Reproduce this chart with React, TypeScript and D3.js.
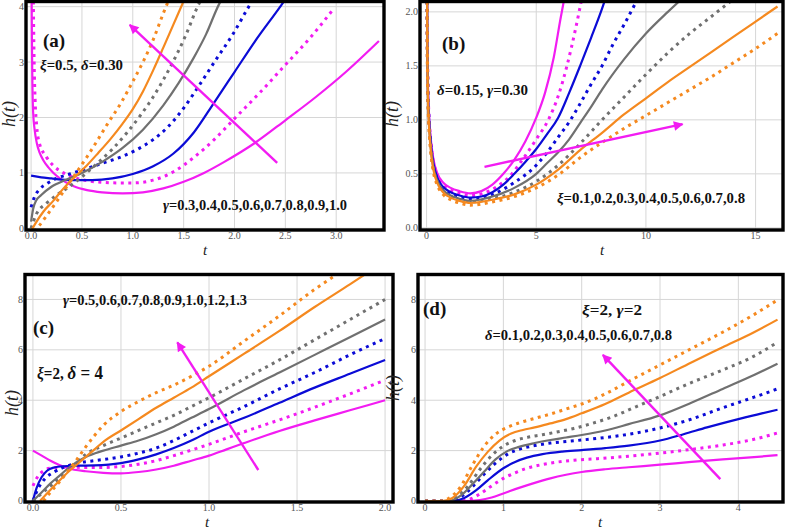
import React from 'react';
import * as d3 from 'd3';

type Pt = [number, number];

// ---------- Panel (a): xi = 0.5, delta = 0.30, gamma varies ----------
const aGamma = [0.3, 0.4, 0.5, 0.6, 0.7, 0.8, 0.9, 1.0];
const a_g03: Pt[] = [[0.004,4.6],[0.008,3.4],[0.013,2.6],[0.02,2.1],[0.035,1.78],[0.056,1.54],[0.085,1.36],[0.12,1.23],[0.17,1.1],[0.22,1.0],[0.3,0.88],[0.42,0.76],[0.55,0.69],[0.7,0.65],[0.9,0.63],[1.1,0.65],[1.3,0.72],[1.5,0.84],[1.7,1.0],[1.9,1.2],[2.2,1.54],[2.5,1.95],[2.8,2.37],[3.1,2.83],[3.42,3.38]];
const a_g04: Pt[] = [[0.02,4.5],[0.03,3.0],[0.04,2.3],[0.055,1.85],[0.08,1.55],[0.15,1.29],[0.22,1.13],[0.32,1.0],[0.42,0.92],[0.55,0.86],[0.7,0.83],[0.85,0.82],[1.0,0.82],[1.2,0.87],[1.4,1.02],[1.6,1.28],[1.8,1.6],[2.0,1.98],[2.25,2.45],[2.5,2.95],[2.75,3.45],[2.97,3.95]];
const a_g05: Pt[] = [[0,0.95],[0.1,0.92],[0.2,0.9],[0.3,0.88],[0.45,0.87],[0.6,0.87],[0.8,0.9],[1.0,0.98],[1.2,1.12],[1.4,1.35],[1.6,1.73],[1.8,2.27],[2.0,2.82],[2.2,3.37],[2.45,4.0],[2.5,4.13]];
const a_g06: Pt[] = [[0,0.38],[0.03,0.55],[0.08,0.7],[0.15,0.8],[0.25,0.9],[0.38,0.98],[0.55,1.08],[0.71,1.18],[0.9,1.3],[1.04,1.42],[1.2,1.6],[1.34,1.82],[1.5,2.17],[1.66,2.6],[1.82,3.05],[1.99,3.52],[2.14,4.0],[2.18,4.12]];
const a_g07: Pt[] = [[0,0.12],[0.02,0.35],[0.05,0.5],[0.1,0.6],[0.2,0.75],[0.35,0.88],[0.5,1.0],[0.7,1.2],[0.9,1.45],[1.1,1.78],[1.3,2.22],[1.45,2.62],[1.6,3.08],[1.72,3.5],[1.85,4.05],[1.88,4.15]];
const a_g08: Pt[] = [[0,0.0],[0.05,0.25],[0.15,0.45],[0.25,0.6],[0.35,0.72],[0.5,0.93],[0.65,1.17],[0.8,1.43],[0.94,1.72],[1.08,2.05],[1.2,2.37],[1.3,2.68],[1.4,3.02],[1.52,3.48],[1.65,4.05],[1.68,4.15]];
const a_g09: Pt[] = [[0.0,-0.05],[0.04,0.08],[0.12,0.3],[0.22,0.5],[0.3,0.68],[0.38,0.84],[0.46,0.98],[0.55,1.14],[0.66,1.36],[0.78,1.61],[0.9,1.89],[1.0,2.15],[1.1,2.47],[1.2,2.85],[1.3,3.26],[1.4,3.68],[1.5,4.1]];
const a_g10: Pt[] = [[0.03,-0.05],[0.08,0.05],[0.15,0.22],[0.25,0.48],[0.35,0.75],[0.45,1.02],[0.55,1.29],[0.65,1.58],[0.75,1.88],[0.88,2.25],[1.0,2.65],[1.1,3.0],[1.2,3.4],[1.3,3.88],[1.36,4.15]];
const aArrow: Pt[] = [[2.42,1.18],[0.97,3.67]];
const aXTicks = [0, 0.5, 1.0, 1.5, 2.0, 2.5, 3.0];
const aYTicks = [0, 1, 2, 3, 4];

// ---------- Panel (b): delta = 0.15, gamma = 0.30, xi varies ----------
const bXi = [0.1, 0.2, 0.3, 0.4, 0.5, 0.6, 0.7, 0.8];
const b_x01: Pt[] = [[0.01,3.0],[0.03,1.9],[0.06,1.35],[0.1,1.1],[0.18,0.85],[0.3,0.65],[0.5,0.5],[0.75,0.42],[1.1,0.37],[1.5,0.34],[2.0,0.32],[2.5,0.34],[3.0,0.4],[3.5,0.5],[4.0,0.63],[4.5,0.8],[5.0,1.02],[5.4,1.25],[5.8,1.58],[6.1,1.93],[6.35,2.2]];
const b_x02: Pt[] = [[0.01,3.0],[0.03,1.88],[0.06,1.33],[0.1,1.08],[0.18,0.83],[0.3,0.63],[0.5,0.48],[0.75,0.4],[1.1,0.35],[1.5,0.32],[2.0,0.3],[2.6,0.32],[3.2,0.38],[3.8,0.48],[4.4,0.64],[5.0,0.82],[5.55,1.0],[6.0,1.22],[6.4,1.5],[6.8,1.85],[7.15,2.2]];
const b_x03: Pt[] = [[0.01,3.0],[0.03,1.85],[0.06,1.3],[0.1,1.06],[0.18,0.81],[0.3,0.61],[0.5,0.46],[0.75,0.38],[1.1,0.33],[1.5,0.3],[2.0,0.28],[2.5,0.29],[3.0,0.33],[3.5,0.4],[4.0,0.5],[4.5,0.61],[5.0,0.73],[5.5,0.87],[6.0,1.02],[6.5,1.25],[7.0,1.5],[7.5,1.76],[8.0,2.03],[8.2,2.15]];
const b_x04: Pt[] = [[0.01,3.0],[0.03,1.83],[0.06,1.28],[0.1,1.04],[0.18,0.79],[0.3,0.59],[0.5,0.45],[0.75,0.37],[1.1,0.32],[1.5,0.29],[2.0,0.27],[2.5,0.28],[3.0,0.31],[4.0,0.42],[5.0,0.58],[5.5,0.7],[6.0,0.84],[6.5,0.98],[7.0,1.15],[7.5,1.33],[8.0,1.5],[8.5,1.7],[9.0,1.88],[9.7,2.15]];
const b_x05: Pt[] = [[0.01,3.0],[0.03,1.8],[0.06,1.26],[0.1,1.02],[0.18,0.77],[0.3,0.57],[0.5,0.43],[0.75,0.35],[1.1,0.3],[1.5,0.27],[2.0,0.25],[3.0,0.29],[4.0,0.37],[5.0,0.5],[5.5,0.6],[6.0,0.7],[6.5,0.82],[7.0,0.97],[7.5,1.12],[8.0,1.28],[9.0,1.56],[10.0,1.8],[11.0,2.0],[11.8,2.15]];
const b_x06: Pt[] = [[0.01,3.0],[0.03,1.78],[0.06,1.24],[0.1,1.0],[0.18,0.75],[0.3,0.56],[0.5,0.42],[0.75,0.34],[1.1,0.29],[1.5,0.26],[2.0,0.24],[3.0,0.27],[4.0,0.33],[5.0,0.43],[6.0,0.58],[7.0,0.78],[8.0,1.0],[9.0,1.21],[10.0,1.42],[11.0,1.62],[12.0,1.8],[13.0,1.96],[14.0,2.12]];
const b_x07: Pt[] = [[0.01,3.0],[0.03,1.76],[0.06,1.22],[0.1,0.98],[0.18,0.74],[0.3,0.55],[0.5,0.41],[0.75,0.33],[1.1,0.28],[1.5,0.25],[2.0,0.23],[3.0,0.26],[4.0,0.31],[5.0,0.4],[6.0,0.54],[7.0,0.72],[8.0,0.88],[9.0,1.05],[10.0,1.2],[11.0,1.35],[12.0,1.49],[13.0,1.63],[14.0,1.77],[15.0,1.91],[16.0,2.05]];
const b_x08: Pt[] = [[0.01,3.0],[0.03,1.74],[0.06,1.2],[0.1,0.96],[0.18,0.72],[0.3,0.53],[0.5,0.39],[0.75,0.31],[1.1,0.26],[1.5,0.23],[2.0,0.21],[3.0,0.24],[4.0,0.29],[5.0,0.37],[6.0,0.49],[7.0,0.65],[8.0,0.79],[9.0,0.92],[10.0,1.04],[11.0,1.16],[12.0,1.28],[13.0,1.4],[14.0,1.53],[15.0,1.66],[16.0,1.8]];
const bArrow: Pt[] = [[2.64,0.565],[11.67,0.96]];
const bXTicks = [0, 5, 10, 15];
const bYTicks = [0, 0.5, 1.0, 1.5, 2.0];

// ---------- Panel (c): xi = 2, delta = 4, gamma varies ----------
const cGamma = [0.5, 0.6, 0.7, 0.8, 0.9, 1.0, 1.2, 1.3];
const c_g05: Pt[] = [[0,2.0],[0.05,1.8],[0.1,1.6],[0.15,1.43],[0.2,1.3],[0.3,1.18],[0.4,1.12],[0.5,1.1],[0.6,1.15],[0.7,1.25],[0.8,1.4],[0.9,1.6],[1.0,1.8],[1.1,2.05],[1.2,2.3],[1.4,2.78],[1.6,3.2],[1.8,3.6],[2.0,4.0]];
const c_g06: Pt[] = [[0,0.6],[0.03,1.0],[0.06,1.2],[0.1,1.3],[0.2,1.34],[0.3,1.33],[0.4,1.33],[0.5,1.37],[0.6,1.46],[0.7,1.6],[0.8,1.8],[0.9,2.02],[1.0,2.25],[1.2,2.75],[1.4,3.22],[1.6,3.72],[1.8,4.25],[2.0,4.8]];
const c_g07: Pt[] = [[0,0],[0.02,0.5],[0.05,0.95],[0.08,1.2],[0.12,1.33],[0.17,1.38],[0.25,1.4],[0.35,1.41],[0.5,1.5],[0.6,1.65],[0.7,1.85],[0.8,2.1],[0.9,2.4],[1.0,2.75],[1.2,3.3],[1.4,3.9],[1.6,4.5],[1.8,5.05],[2.0,5.6]];
const c_g08: Pt[] = [[0,0],[0.03,0.5],[0.07,0.9],[0.12,1.15],[0.18,1.35],[0.25,1.5],[0.35,1.6],[0.5,1.75],[0.6,1.9],[0.7,2.1],[0.8,2.4],[0.9,2.75],[1.0,3.1],[1.2,3.75],[1.4,4.45],[1.6,5.1],[1.8,5.8],[2.0,6.45]];
const c_g09: Pt[] = [[0,0],[0.05,0.35],[0.1,0.7],[0.15,1.0],[0.2,1.3],[0.25,1.55],[0.3,1.75],[0.4,2.0],[0.5,2.2],[0.6,2.4],[0.7,2.65],[0.8,2.95],[0.9,3.3],[1.0,3.65],[1.2,4.4],[1.4,5.1],[1.6,5.8],[1.8,6.5],[2.0,7.2]];
const c_g10: Pt[] = [[0,0],[0.05,0.3],[0.1,0.6],[0.15,0.9],[0.2,1.2],[0.25,1.55],[0.3,1.85],[0.4,2.2],[0.5,2.5],[0.6,2.8],[0.7,3.1],[0.8,3.4],[0.9,3.75],[1.0,4.1],[1.2,4.85],[1.4,5.6],[1.6,6.4],[1.8,7.2],[2.0,8.0]];
const c_g12: Pt[] = [[0.04,0],[0.1,0.45],[0.15,0.8],[0.2,1.15],[0.25,1.45],[0.3,1.75],[0.35,2.05],[0.4,2.35],[0.5,2.8],[0.6,3.25],[0.7,3.7],[0.8,4.1],[0.9,4.5],[1.0,4.95],[1.2,5.85],[1.4,6.75],[1.6,7.7],[1.8,8.6],[1.92,9.15]];
const c_g13: Pt[] = [[0.06,0],[0.1,0.35],[0.15,0.75],[0.2,1.2],[0.25,1.65],[0.3,2.15],[0.35,2.6],[0.4,3.0],[0.5,3.55],[0.6,3.95],[0.7,4.3],[0.8,4.6],[0.9,4.95],[1.0,5.35],[1.2,6.35],[1.4,7.35],[1.6,8.4],[1.76,9.15]];
const cArrow: Pt[] = [[1.28,1.23],[0.82,6.3]];
const cXTicks = [0, 0.5, 1.0, 1.5, 2.0];
const cYTicks = [0, 2, 4, 6, 8];

// ---------- Panel (d): xi = 2, gamma = 2, delta varies ----------
const dDelta = [0.1, 0.2, 0.3, 0.4, 0.5, 0.6, 0.7, 0.8];
const d_d01: Pt[] = [[0,0],[0.5,0],[0.7,0.04],[0.85,0.14],[1.0,0.3],[1.2,0.52],[1.4,0.72],[1.6,0.9],[1.8,1.04],[2.0,1.15],[2.3,1.26],[2.6,1.34],[3.0,1.44],[3.4,1.55],[3.8,1.65],[4.2,1.74],[4.5,1.82]];
const d_d02: Pt[] = [[0,0],[0.4,0],[0.55,0.05],[0.7,0.28],[0.85,0.6],[1.0,0.9],[1.15,1.12],[1.3,1.3],[1.5,1.45],[1.7,1.55],[1.9,1.62],[2.2,1.68],[2.6,1.78],[3.0,1.9],[3.4,2.05],[3.8,2.22],[4.2,2.45],[4.5,2.7]];
const d_d03: Pt[] = [[0,0],[0.35,0],[0.5,0.12],[0.65,0.42],[0.8,0.82],[1.0,1.3],[1.15,1.55],[1.3,1.72],[1.5,1.86],[1.75,1.96],[2.0,2.02],[2.3,2.1],[2.6,2.2],[3.0,2.4],[3.3,2.65],[3.6,2.92],[4.0,3.25],[4.3,3.48],[4.5,3.62]];
const d_d04: Pt[] = [[0,0],[0.3,0],[0.45,0.15],[0.6,0.55],[0.75,1.05],[0.9,1.5],[1.05,1.85],[1.2,2.05],[1.4,2.2],[1.6,2.3],[1.8,2.36],[2.0,2.42],[2.3,2.52],[2.6,2.65],[3.0,2.9],[3.4,3.25],[3.8,3.7],[4.2,4.12],[4.5,4.45]];
const d_d05: Pt[] = [[0,0],[0.3,0],[0.45,0.2],[0.6,0.65],[0.75,1.15],[0.9,1.65],[1.05,1.98],[1.2,2.15],[1.4,2.3],[1.6,2.42],[1.8,2.52],[2.0,2.62],[2.3,2.8],[2.6,3.05],[3.0,3.4],[3.4,3.9],[3.8,4.45],[4.2,5.0],[4.5,5.45]];
const d_d06: Pt[] = [[0,0],[0.28,0],[0.4,0.15],[0.55,0.6],[0.7,1.25],[0.85,1.8],[1.0,2.18],[1.15,2.4],[1.3,2.52],[1.5,2.63],[1.7,2.75],[1.9,2.88],[2.1,3.05],[2.4,3.35],[2.7,3.75],[3.0,4.15],[3.4,4.7],[3.8,5.2],[4.2,5.75],[4.5,6.3]];
const d_d07: Pt[] = [[0,0],[0.22,0],[0.35,0.12],[0.5,0.6],[0.65,1.35],[0.8,1.95],[0.95,2.4],[1.1,2.68],[1.25,2.82],[1.4,2.92],[1.6,3.08],[1.8,3.25],[2.0,3.48],[2.3,3.85],[2.6,4.3],[3.0,4.88],[3.4,5.5],[3.8,6.1],[4.2,6.7],[4.5,7.2]];
const d_d08: Pt[] = [[0,0],[0.2,0],[0.3,0.1],[0.45,0.55],[0.6,1.4],[0.75,2.15],[0.9,2.65],[1.05,2.92],[1.2,3.1],[1.4,3.28],[1.6,3.45],[1.8,3.65],[2.0,3.85],[2.3,4.25],[2.6,4.75],[3.0,5.4],[3.4,6.05],[3.8,6.7],[4.2,7.4],[4.5,7.98]];
const dArrow: Pt[] = [[3.77,0.87],[2.27,5.8]];
const dXTicks = [0, 1, 2, 3, 4];
const dYTicks = [0, 2, 4, 6, 8];

// ---------- styles ----------
const MAGENTA = '#f21cf2';
const BLUE = '#0b0bd6';
const GRAY = '#707070';
const ORANGE = '#f5891f';
const SERIES_STYLE = [
  { color: MAGENTA, dotted: false },
  { color: MAGENTA, dotted: true },
  { color: BLUE, dotted: false },
  { color: BLUE, dotted: true },
  { color: GRAY, dotted: false },
  { color: GRAY, dotted: true },
  { color: ORANGE, dotted: false },
  { color: ORANGE, dotted: true },
];
const SERIF = '"Liberation Serif", "Times New Roman", serif';

interface Box { x0: number; y0: number; x1: number; y1: number; }
interface PanelProps {
  id: string;
  box: Box;
  xDomain: [number, number];
  yDomain: [number, number];
  xTicks: number[];
  yTicks: number[];
  xFmt: (v: number) => string;
  yFmt: (v: number) => string;
  series: Pt[][];
  arrow: Pt[];
  yLabel: [number, number];
  xLabel: [number, number];
}

function Panel(p: PanelProps) {
  const x = d3.scaleLinear().domain(p.xDomain).range([p.box.x0, p.box.x1]);
  const y = d3.scaleLinear().domain(p.yDomain).range([p.box.y1, p.box.y0]);
  const line = d3.line<Pt>().x(d => x(d[0])).y(d => y(d[1])).curve(d3.curveMonotoneX);
  const w = p.box.x1 - p.box.x0;
  const h = p.box.y1 - p.box.y0;
  const clipId = 'clip-' + p.id;
  return (
    <g>
      <defs>
        <clipPath id={clipId}>
          <rect x={p.box.x0} y={p.box.y0} width={w} height={h} />
        </clipPath>
      </defs>
      <rect x={p.box.x0} y={p.box.y0} width={w} height={h} fill="#fff" />
      {p.xTicks.map(t => (
        <line key={'gx' + t} x1={x(t)} x2={x(t)} y1={p.box.y0} y2={p.box.y1} stroke="#d6d6d6" strokeWidth={1} />
      ))}
      {p.yTicks.map(t => (
        <line key={'gy' + t} x1={p.box.x0} x2={p.box.x1} y1={y(t)} y2={y(t)} stroke="#d6d6d6" strokeWidth={1} />
      ))}
      <g clipPath={`url(#${clipId})`}>
        {p.series.map((s, i) => {
          const st = SERIES_STYLE[i];
          return (
            <path
              key={'s' + i}
              d={line(s) || ''}
              fill="none"
              stroke={st.color}
              strokeWidth={st.dotted ? 3 : 2.2}
              strokeDasharray={st.dotted ? '3 4.5' : undefined}
            />
          );
        })}
        <line
          x1={x(p.arrow[0][0])}
          y1={y(p.arrow[0][1])}
          x2={x(p.arrow[1][0])}
          y2={y(p.arrow[1][1])}
          stroke={MAGENTA}
          strokeWidth={2.4}
          markerEnd="url(#arrowHead)"
        />
      </g>
      <rect x={p.box.x0} y={p.box.y0 + 1.5} width={w} height={h - 1.5} fill="none" stroke="#000" strokeWidth={3.4} />
      {p.xTicks.map(t => (
        <text key={'tx' + t} x={x(t)} y={p.box.y1 + 9} textAnchor="middle" fontSize={10} fontFamily={SERIF} fill="#555">
          {p.xFmt(t)}
        </text>
      ))}
      {p.yTicks.map(t => (
        <text key={'ty' + t} x={p.box.x0 - 2} y={y(t) + 3.5} textAnchor="end" fontSize={10} fontFamily={SERIF} fill="#555">
          {p.yFmt(t)}
        </text>
      ))}
      <text
        transform={`translate(${p.yLabel[0]},${p.yLabel[1]}) rotate(-90)`}
        textAnchor="middle"
        fontSize={18}
        fontStyle="italic"
        fontFamily={SERIF}
        fill="#222"
      >
        h(t)
      </text>
      <text x={p.xLabel[0]} y={p.xLabel[1]} textAnchor="middle" fontSize={15} fontStyle="italic" fontFamily={SERIF} fill="#222">
        t
      </text>
    </g>
  );
}

const list = (vals: number[]) => vals.map(v => v.toFixed(1)).join(',');
const fmt1 = (v: number) => v.toFixed(1);
const fmt0 = (v: number) => v.toFixed(0);

function Label(props: { x: number; y: number; size: number; len?: number; children: React.ReactNode }) {
  return (
    <text
      x={props.x}
      y={props.y}
      fontSize={props.size}
      fontWeight="bold"
      fontFamily={SERIF}
      fill="#111"
      textLength={props.len}
      lengthAdjust={props.len ? 'spacingAndGlyphs' : undefined}
    >
      {props.children}
    </text>
  );
}

const I = (s: string) => <tspan fontStyle="italic">{s}</tspan>;

export default function App() {
  return (
    <svg width={787} height={529} style={{ position: 'absolute', left: 0, top: 0, background: '#fff' }}>
      <defs>
        <marker id="arrowHead" viewBox="0 0 10 10" refX={9} refY={5} markerWidth={5.5} markerHeight={4} orient="auto" markerUnits="strokeWidth">
          <path d="M0,0 L10,5 L0,10 z" fill={MAGENTA} />
        </marker>
      </defs>

      <Panel
        id="a"
        box={{ x0: 26, y0: 0, x1: 384, y1: 230 }}
        xDomain={[-0.05, 3.47]}
        yDomain={[-0.03, 4.12]}
        xTicks={aXTicks}
        yTicks={aYTicks}
        xFmt={fmt1}
        yFmt={fmt0}
        series={[a_g03, a_g04, a_g05, a_g06, a_g07, a_g08, a_g09, a_g10]}
        arrow={aArrow}
        yLabel={[15, 114]}
        xLabel={[205, 255]}
      />
      <Panel
        id="b"
        box={{ x0: 420, y0: 0, x1: 783, y1: 230 }}
        xDomain={[-0.3, 16.25]}
        yDomain={[-0.02, 2.11]}
        xTicks={bXTicks}
        yTicks={bYTicks}
        xFmt={fmt0}
        yFmt={fmt1}
        series={[b_x01, b_x02, b_x03, b_x04, b_x05, b_x06, b_x07, b_x08]}
        arrow={bArrow}
        yLabel={[398, 114]}
        xLabel={[602, 255]}
      />
      <Panel
        id="c"
        box={{ x0: 25, y0: 273, x1: 393, y1: 502 }}
        xDomain={[-0.045, 2.045]}
        yDomain={[-0.04, 9.05]}
        xTicks={cXTicks}
        yTicks={cYTicks}
        xFmt={fmt1}
        yFmt={fmt0}
        series={[c_g05, c_g06, c_g07, c_g08, c_g09, c_g10, c_g12, c_g13]}
        arrow={cArrow}
        yLabel={[18, 403]}
        xLabel={[207, 527]}
      />
      <Panel
        id="d"
        box={{ x0: 418, y0: 273, x1: 783, y1: 502 }}
        xDomain={[-0.09, 4.57]}
        yDomain={[-0.04, 9.05]}
        xTicks={dXTicks}
        yTicks={dYTicks}
        xFmt={fmt0}
        yFmt={fmt0}
        series={[d_d01, d_d02, d_d03, d_d04, d_d05, d_d06, d_d07, d_d08]}
        arrow={dArrow}
        yLabel={[399, 388]}
        xLabel={[600, 527]}
      />

      {/* Panel (a) annotations */}
      <Label x={43} y={47} size={19}>(a)</Label>
      <Label x={40} y={70} size={15} len={83}>{I('ξ')}=0.5, {I('δ')}=0.30</Label>
      <Label x={163} y={210} size={15} len={184}>{I('γ')}={list(aGamma)}</Label>

      {/* Panel (b) annotations */}
      <Label x={442} y={50} size={19}>(b)</Label>
      <Label x={437} y={95} size={15} len={91}>{I('δ')}=0.15, {I('γ')}=0.30</Label>
      <Label x={557} y={203} size={15} len={188}>{I('ξ')}={list(bXi)}</Label>

      {/* Panel (c) annotations */}
      <Label x={63} y={305} size={15} len={184}>{I('γ')}={list(cGamma)}</Label>
      <Label x={33} y={334} size={19}>(c)</Label>
      <Label x={37} y={379} size={16} len={66}>{I('ξ')}=2, <tspan fontSize={18}>{I('δ')} = 4</tspan></Label>

      {/* Panel (d) annotations */}
      <Label x={423} y={315} size={19}>(d)</Label>
      <Label x={582} y={315} size={15} len={60}>{I('ξ')}=2, {I('γ')}=2</Label>
      <Label x={485} y={340} size={15} len={187}>{I('δ')}={list(dDelta)}</Label>
    </svg>
  );
}
